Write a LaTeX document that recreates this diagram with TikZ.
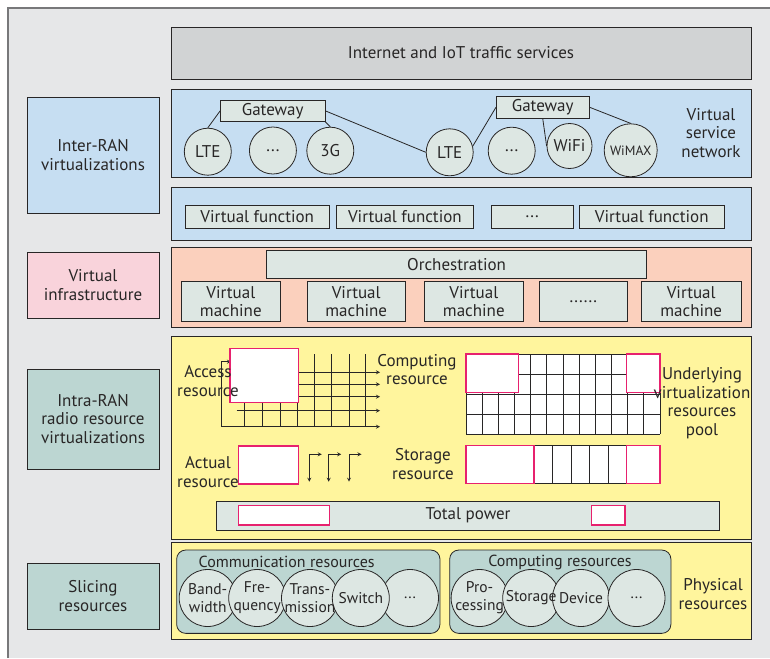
\documentclass[tikz,border=0pt]{standalone}
\usepackage{fontspec}
\setmainfont{PT Sans}
\definecolor{FrameColor}{RGB}{230,231,232}
\definecolor{FrameLine}{RGB}{120,120,122}
\definecolor{LineColor}{RGB}{40,38,38}
\definecolor{TopGray}{RGB}{209,211,212}
\definecolor{BlueFill}{RGB}{198,222,242}
\definecolor{PinkFill}{RGB}{249,211,219}
\definecolor{PeachFill}{RGB}{251,208,189}
\definecolor{YellowFill}{RGB}{255,245,157}
\definecolor{TealFill}{RGB}{188,214,210}
\definecolor{PaleFill}{RGB}{221,231,227}
\definecolor{SlotColor}{RGB}{231,33,110}
\usepackage{tikz}
\usetikzlibrary{positioning, arrows.meta}
\tikzstyle{panel} = [rectangle, draw=LineColor, line width=0.8pt, inner sep=0pt, outer sep=0pt, align=center, text=LineColor, font=\fontsize{17}{18.5}\selectfont]
\tikzstyle{sidebox} = [panel, minimum width=132pt]
\tikzstyle{layer} = [panel, minimum width=580pt]
\tikzstyle{unit} = [panel, fill=PaleFill]
\tikzstyle{site} = [circle, draw=LineColor, line width=0.8pt, fill=PaleFill, inner sep=0pt, minimum size=47pt, text=LineColor, font=\fontsize{17}{18.5}\selectfont]
\tikzstyle{res} = [site, minimum size=57pt]
\tikzstyle{group} = [panel, fill=TealFill, rounded corners=9pt]
\tikzstyle{caption} = [align=center, inner sep=0pt, text=LineColor, font=\fontsize{17}{18.5}\selectfont]
\tikzstyle{slot} = [draw=SlotColor, line width=1.2pt, fill=white]
\tikzstyle{cell} = [draw=LineColor, line width=0.8pt]
\tikzstyle{link} = [draw=LineColor, line width=0.8pt]
\tikzstyle{arrow} = [line width=0.8pt, LineColor, ->, >=stealth]
\begin{document}
\begin{tikzpicture}[x=1pt, y=-1pt]
\useasboundingbox (0,0) rectangle (770,658);

% Frame
\fill[FrameColor] (8,8) rectangle (770,658);
\draw[FrameLine, line width=1.3pt] (8,658) -- (8,8) -- (770,8);

% Traffic services
\node[layer, fill=TopGray, minimum height=52pt] (traffic) at (461,53) {Internet and IoT traffic services};

% Left labels
\node[sidebox, fill=BlueFill, minimum height=116pt] (interlab) at (93,155) {Inter-RAN\\virtualizations};
\node[sidebox, fill=PinkFill, minimum height=66pt] (infralab) at (93,285) {Virtual\\infrastructure};
\node[sidebox, fill=TealFill, minimum height=100pt] (intralab) at (93,419) {Intra-RAN\\radio resource\\virtualizations};
\node[sidebox, fill=TealFill, minimum height=66pt] (slicelab) at (93,596) {Slicing\\resources};

% Virtual service network
\node[layer, fill=BlueFill, minimum height=87.5pt] (vsn) at (461,133.3) {};
\node[unit, minimum width=105pt, minimum height=21.7pt] (gwa) at (272.7,110.8) {Gateway};
\node[unit, minimum width=93.4pt, minimum height=22.3pt] (gwb) at (542.7,107.2) {Gateway};
\node[site] (ltea) at (207.8,151.7) {LTE};
\node[site] (dotsa) at (272.9,150.5) {...};
\node[site] (gthree) at (330.3,150.7) {3G};
\node[site] (lteb) at (449.7,152.3) {LTE};
\node[site] (dotsb) at (511.7,150.7) {...};
\node[site, minimum size=45pt] (wifi) at (569.5,146) {WiFi};
\node[site, minimum size=53pt, font=\fontsize{13.5}{16}\selectfont] (wimax) at (630.7,150.3) {WiMAX};
\draw[link] (gwa.west) -- (ltea.north);
\draw[link] (gwa.south east) -- (gthree.north);
\draw[link] (gwa.east) -- (lteb.west);
\draw[link] (gwb.west) -- (lteb.15);
\draw[link] (gwb.south) -- (wifi.west);
\draw[link] (gwb.east) -- (wimax.north);
\node[caption] (vsntext) at (711,133) {Virtual\\service\\network};

% Virtual functions
\node[layer, fill=BlueFill, minimum height=52.5pt] (vfl) at (461,213.8) {};
\node[unit, minimum width=144.6pt, minimum height=22.6pt] (vfa) at (257.2,217) {Virtual function};
\node[unit, minimum width=137.8pt, minimum height=22.6pt] (vfb) at (404.9,217) {Virtual function};
\node[unit, minimum width=82.3pt, minimum height=22.6pt] (vfc) at (532.2,217) {...};
\node[unit, minimum width=145.5pt, minimum height=22.6pt] (vfd) at (651.8,217) {Virtual function};

% Virtual infrastructure
\node[layer, fill=PeachFill, minimum height=80pt] (infra) at (461,287.3) {};
\node[unit, minimum width=380.4pt, minimum height=28.3pt] (orch) at (456.6,264.2) {Orchestration};
\node[unit, minimum width=99.6pt, minimum height=40pt] (vma) at (230.8,301.7) {Virtual\\machine};
\node[unit, minimum width=97.7pt, minimum height=40pt] (vmb) at (356.2,301.7) {Virtual\\machine};
\node[unit, minimum width=99.6pt, minimum height=40pt] (vmc) at (473.8,301.7) {Virtual\\machine};
\node[unit, minimum width=88.8pt, minimum height=40pt] (vmd) at (583.3,301.7) {......};
\node[unit, minimum width=99.6pt, minimum height=40pt] (vme) at (691.2,301.7) {Virtual\\machine};

% Intra-RAN resource pool
\node[layer, fill=YellowFill, minimum height=203pt] (intra) at (461,437.5) {};

% Access grid
\foreach \x in {244,262,280,297,314,331,349,365}
  \draw[cell] (\x,354) -- (\x,426.7);
\foreach \y in {372.3,384.3,396.7,410.7}
  \draw[arrow] (236.7,\y) -- (380,\y);
\draw[arrow] (221,426.7) -- (380,426.7);
\draw[arrow] (221,426.7) -- (221,361.7) -- (231,361.7);
\draw[slot] (230,348.3) rectangle (298.3,402.7);
\node[caption] (accesstext) at (208,381) {Access\\resource};

% Actual resource
\draw[slot] (238.3,446) rectangle (298.3,484);
\foreach \x in {309.3,328.7,349} {
  \draw[arrow] (\x,454.3) -- (\x,481.7);
  \draw[arrow] (\x,454.3) -- (\x+12.5,454.3);
}
\node[caption] (actualtext) at (208,472) {Actual\\resource};

% Computing grid
\fill[white] (466,354) rectangle (660,434);
\foreach \i in {0,...,12}
  \draw[cell] ({466+16.17*\i},354) -- ({466+16.17*\i},434);
\foreach \j in {0,...,4}
  \draw[cell] (466,{354+20*\j}) -- (660,{354+20*\j});
\draw[slot] (466,354) rectangle (518.3,392.3);
\draw[slot] (626.3,354) rectangle (660,392.3);
\node[caption] (comptext) at (417,369.5) {Computing\\resource};

% Storage row
\draw[cell, fill=white] (466,445.7) rectangle (660,483.3);
\foreach \x in {552.5,571,589.5,608}
  \draw[cell] (\x,445.7) -- (\x,483.3);
\draw[slot] (466,445.7) rectangle (534,483.3);
\draw[slot] (626.5,445.7) rectangle (660,483.3);
\node[caption] (storetext) at (423,464) {Storage\\resource};

\node[caption] (pooltext) at (702,403) {Underlying\\virtualization\\resources\\pool};

% Total power
\node[unit, minimum width=502.9pt, minimum height=29pt] (power) at (468,515.5) {Total power};
\draw[slot] (238.5,505.7) rectangle (329.2,525);
\draw[slot] (591.3,505.7) rectangle (625,525);

% Physical resources
\node[layer, fill=YellowFill, minimum height=96.6pt] (phys) at (461,591) {};
\node[group, minimum width=263.3pt, minimum height=83.3pt] (commgrp) at (308.3,591.7) {};
\node[group, minimum width=221.2pt, minimum height=83.3pt] (compgrp) at (560.3,591.7) {};
\node[caption, font=\fontsize{16}{18}\selectfont] (commtitle) at (286.7,562) {Communication resources};
\node[caption, font=\fontsize{16}{18}\selectfont] (comptitle) at (560,562) {Computing resources};
\foreach \x/\n in {207.7/bw, 257.2/fq, 310/tr, 410/dca, 360.8/sw, 479.6/pr, 531.2/st, 581/dv, 636.5/dcb}
  \node[res] (\n) at (\x,598) {};
\foreach \n/\t in {bw/{Band-\\width}, fq/{Fre-\\quency}, tr/{Trans-\\mission}, sw/{Switch}, dca/{...}, pr/{Pro-\\cessing}, st/{Storage}, dv/{Device}, dcb/{...}}
  \node[caption, font=\fontsize{15.5}{18}\selectfont] (\n-t) at (\n) {\t};
\node[caption] (phystext) at (713,594) {Physical\\resources};
\end{tikzpicture}
\end{document}
